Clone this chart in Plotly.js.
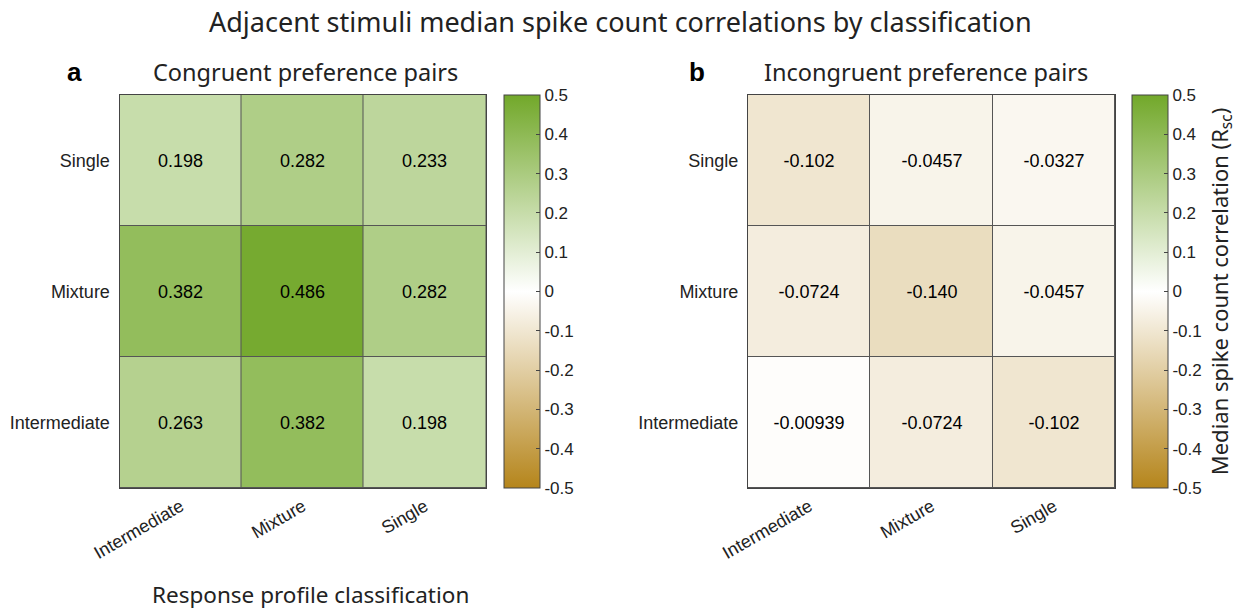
<!DOCTYPE html>
<html><head><meta charset="utf-8">
<script src="https://cdn.plot.ly/plotly-3.0.1.min.js"></script>
<style>html,body{margin:0;padding:0;background:#fff}#chart{width:1247px;height:611px}</style>
</head><body><div id="chart"></div>
<script>
const categories = ["Intermediate", "Mixture", "Single"];
// rows: Intermediate, Mixture, Single (bottom to top); columns: Intermediate, Mixture, Single
const congruent = [
  [0.263, 0.382, 0.198],
  [0.382, 0.486, 0.282],
  [0.198, 0.282, 0.233]
];
const incongruent = [
  [-0.00939, -0.0724, -0.102],
  [-0.0724, -0.140, -0.0457],
  [-0.102, -0.0457, -0.0327]
];
const cbTickVals = [-0.5,-0.4,-0.3,-0.2,-0.1,0,0.1,0.2,0.3,0.4,0.5];
const cbTickText = ["-0.5","-0.4","-0.3","-0.2","-0.1","0","0.1","0.2","0.3","0.4","0.5"];

const W = 1247, H = 611;
const fx = p => p / W, fy = p => 1 - p / H;
const cscale = [[0, '#b5851b'], [0.5, '#ffffff'], [1, '#72a82a']];
const fmt = z => z.map(r => r.map(v => v.toPrecision(3)));
const font = "Liberation Sans, Arial, sans-serif";
const tfont = "Noto Sans, Open Sans, sans-serif";

function cb(xpx, withTitle) {
  const c = {
    x: fx(xpx), xanchor: 'left', xref: 'paper',
    y: fy(488), yanchor: 'bottom', yref: 'paper',
    len: 393, lenmode: 'pixels', thickness: 36, thicknessmode: 'pixels',
    outlinewidth: 1, outlinecolor: '#444',
    tickmode: 'array', tickvals: cbTickVals, ticktext: cbTickText,
    ticks: 'inside', ticklen: 4, tickcolor: '#444',
    tickfont: {family: font, size: 17, color: '#222'}, xpad: 0, ypad: 0
  };
  if (withTitle) c.title = {text: 'Median spike count correlation (R<sub>sc</sub>)', side: 'right', font: {family: tfont, size: 22, color: '#222'}};
  return c;
}

const traces = [
  {type: 'heatmap', x: categories, y: categories, z: congruent, text: fmt(congruent),
   texttemplate: '%{text}', textfont: {family: font, size: 18, color: '#000'},
   zmin: -0.5, zmax: 0.5, colorscale: cscale, xgap: 1, ygap: 1,
   colorbar: cb(504, false), hoverinfo: 'skip', xaxis: 'x', yaxis: 'y'},
  {type: 'heatmap', x: categories, y: categories, z: incongruent, text: fmt(incongruent),
   texttemplate: '%{text}', textfont: {family: font, size: 18, color: '#000'},
   zmin: -0.5, zmax: 0.5, colorscale: cscale, xgap: 1, ygap: 1,
   colorbar: cb(1132, true), hoverinfo: 'skip', xaxis: 'x2', yaxis: 'y2'}
];

const ax = (dom, anchor) => ({
  domain: dom, anchor: anchor, showline: true, mirror: true, linecolor: '#444', linewidth: 1,
  ticks: '', showgrid: false, zeroline: false, fixedrange: true,
  tickfont: {family: font, size: 18, color: '#222'}
});

const ann = (text, xp, yp, size, fam) => ({
  text: text, x: fx(xp), y: fy(yp), xref: 'paper', yref: 'paper', xanchor: 'center', yanchor: 'middle',
  showarrow: false, font: {family: fam, size: size, color: '#222'}
});

const layout = {
  width: W, height: H, margin: {l: 0, r: 0, t: 0, b: 0},
  paper_bgcolor: '#fff', plot_bgcolor: '#555', showlegend: false,
  xaxis: Object.assign(ax([fx(119.5), fx(486)], 'y'), {tickangle: -30}),
  yaxis: Object.assign(ax([fy(488), fy(95)], 'x'), {ticksuffix: ' '}),
  xaxis2: Object.assign(ax([fx(748), fx(1115)], 'y2'), {tickangle: -30}),
  yaxis2: Object.assign(ax([fy(488), fy(95)], 'x2'), {ticksuffix: ' '}),
  annotations: [
    ann('Adjacent stimuli median spike count correlations by classification', 620, 22, 27, tfont),
    ann('Congruent preference pairs', 305, 72, 23.5, tfont),
    ann('Incongruent preference pairs', 926, 72, 23.5, tfont),
    Object.assign(ann('<b>a</b>', 74, 72, 26, font), {font: {family: font, size: 26, color: '#000'}}),
    Object.assign(ann('<b>b</b>', 697, 72, 26, font), {font: {family: font, size: 26, color: '#000'}}),
    ann('Response profile classification', 310, 594, 22.5, tfont)
  ]
};

Plotly.newPlot('chart', traces, layout, {staticPlot: true, displayModeBar: false});
</script></body></html>
